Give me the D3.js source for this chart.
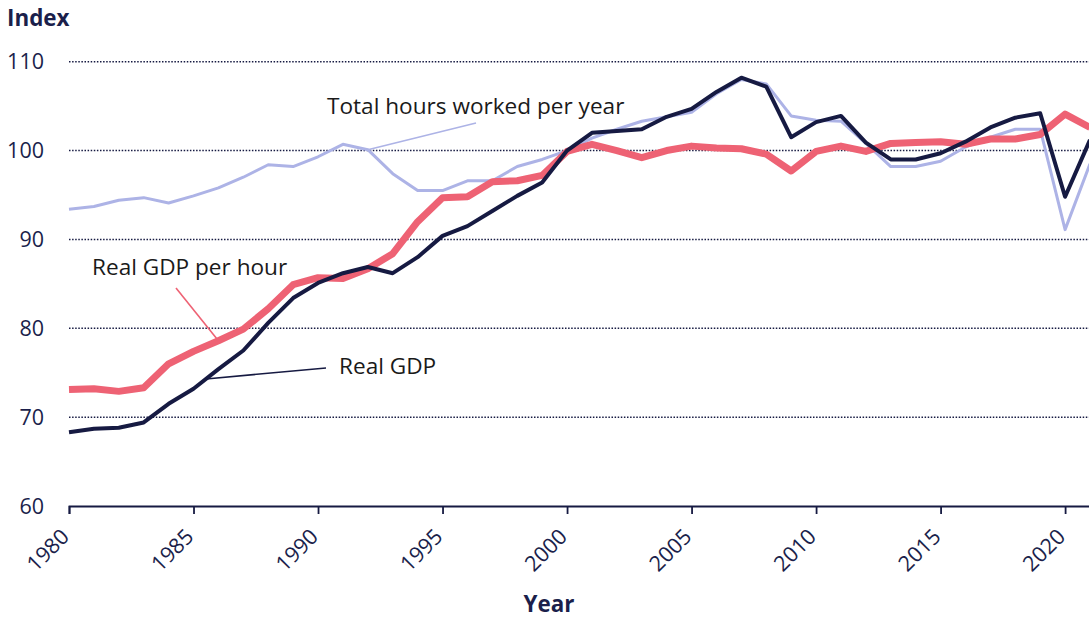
<!DOCTYPE html>
<html>
<head>
<meta charset="utf-8">
<script src="https://cdn.jsdelivr.net/npm/d3@7"></script>
<style>
  body { margin: 0; background: #fff; }
  svg text { font-family: "Open Sans", sans-serif; fill: #1b1f4b; }
</style>
</head>
<body>
<script>
// years 1980..2021
let years = d3.range(1980, 2022)
let realGdp = [68.3, 68.7, 68.8, 69.4, 71.5, 73.2, 75.4, 77.5, 80.6, 83.4,
  85.1, 86.2, 86.9, 86.2, 88.0, 90.4, 91.5, 93.2, 94.9, 96.4,
  100.0, 102.0, 102.2, 102.4, 103.8, 104.7, 106.6, 108.2, 107.2, 101.5,
  103.2, 103.9, 100.9, 99.0, 99.0, 99.7, 101.0, 102.6, 103.7, 104.2,
  94.8, 101.2]
let gdpPerHour = [73.1, 73.2, 72.9, 73.3, 76.0, 77.4, 78.6, 79.9, 82.2, 84.9,
  85.7, 85.6, 86.7, 88.4, 92.0, 94.7, 94.8, 96.5, 96.6, 97.2,
  99.9, 100.7, 100.0, 99.2, 100.0, 100.5, 100.3, 100.2, 99.6, 97.7,
  99.9, 100.5, 99.9, 100.8, 100.9, 101.0, 100.7, 101.3, 101.3, 101.8,
  104.1, 102.6]
let hoursWorked = [93.4, 93.7, 94.4, 94.7, 94.1, 94.9, 95.8, 97.0, 98.4, 98.2,
  99.3, 100.7, 100.1, 97.4, 95.5, 95.5, 96.6, 96.6, 98.2, 99.0,
  100.0, 101.4, 102.4, 103.3, 103.8, 104.3, 106.4, 108.0, 107.5, 103.9,
  103.4, 103.3, 100.8, 98.2, 98.2, 98.8, 100.4, 101.5, 102.4, 102.4,
  91.1, 98.5]
let xTicks = [1980, 1985, 1990, 1995, 2000, 2005, 2010, 2015, 2020]
let yTicks = [60, 70, 80, 90, 100, 110]

let w = 1089, h = 619
let navy = "#161a42", pink = "#ee6274", lilac = "#adb3e6"

let svg = d3.select("body").append("svg")
  .attr("width", w)
  .attr("height", h)

let x = d3.scaleLinear().domain([1980, 2021]).range([69, 1090])
let y = d3.scaleLinear().domain([60, 110]).range([506, 61.7])

// grid lines (dotted)
svg.append("g")
  .selectAll("line")
  .data(yTicks.filter(d => d > 60))
  .enter()
  .append("line")
  .attr("x1", 69)
  .attr("x2", w)
  .attr("y1", d => y(d))
  .attr("y2", d => y(d))
  .attr("stroke", navy)
  .attr("stroke-width", 1.5)
  .attr("stroke-dasharray", "1.5,1.6")

// y labels
svg.append("g")
  .selectAll("text")
  .data(yTicks)
  .enter()
  .append("text")
  .attr("x", 44)
  .attr("y", d => y(d))
  .attr("dy", "0.36em")
  .attr("text-anchor", "end")
  .style("font-size", "21.5px")
  .text(d => d)

svg.append("text")
  .attr("x", 7)
  .attr("y", 26)
  .style("font-size", "22.4px")
  .style("font-weight", "bold")
  .text("Index")

// x axis
let xAxis = d3.axisBottom(x).tickValues(xTicks).tickSize(8).tickFormat(d => d)
let gx = svg.append("g")
  .attr("transform", "translate(0," + y(60) + ")")
  .call(xAxis)
gx.select(".domain").attr("stroke", navy).attr("stroke-width", 1.8)
gx.selectAll(".tick line").attr("stroke", navy).attr("stroke-width", 1.8)
gx.selectAll(".tick text")
  .style("font-size", "21.5px")
  .style("font-family", "Open Sans, sans-serif")
  .attr("fill", navy)
  .attr("text-anchor", "end")
  .attr("dy", "0")
  .attr("y", 0)
  .attr("transform", "translate(1,32) rotate(-45)")

svg.append("text")
  .attr("x", 549)
  .attr("y", 612)
  .attr("text-anchor", "middle")
  .style("font-size", "22.4px")
  .style("font-weight", "bold")
  .text("Year")

// lines
let line = vals => d3.line()
  .x((d, i) => x(years[i]))
  .y(d => y(d))(vals)

svg.append("path")
  .attr("d", line(hoursWorked))
  .attr("fill", "none")
  .attr("stroke", lilac)
  .attr("stroke-width", 3)
  .attr("stroke-linejoin", "round")

svg.append("path")
  .attr("d", line(gdpPerHour))
  .attr("fill", "none")
  .attr("stroke", pink)
  .attr("stroke-width", 7)
  .attr("stroke-linejoin", "round")

svg.append("path")
  .attr("d", line(realGdp))
  .attr("fill", "none")
  .attr("stroke", navy)
  .attr("stroke-width", 4)
  .attr("stroke-linejoin", "round")

// annotations
let notes = [
  {text: "Total hours worked per year", tx: 327, ty: 114, lx: 476, ly: 123, year: 1992, vals: hoursWorked, color: lilac},
  {text: "Real GDP per hour", tx: 92, ty: 275, lx: 176, ly: 288, year: 1986, vals: gdpPerHour, color: pink},
  {text: "Real GDP", tx: 339, ty: 374, lx: 326, ly: 368, year: 1985.5, vals: realGdp, color: navy}
]
notes.forEach(n => {
  let i0 = Math.floor(n.year - 1980), f = n.year - 1980 - i0
  let v = n.vals[i0] + (f ? (n.vals[i0 + 1] - n.vals[i0]) * f : 0)
  svg.append("line")
    .attr("x1", n.lx).attr("y1", n.ly)
    .attr("x2", x(n.year)).attr("y2", y(v))
    .attr("stroke", n.color)
    .attr("stroke-width", 1.6)
  svg.append("text")
    .attr("x", n.tx)
    .attr("y", n.ty)
    .style("font-size", "22.6px")
    .style("fill", "#1a1a1a")
    .text(n.text)
})
</script>
</body>
</html>
